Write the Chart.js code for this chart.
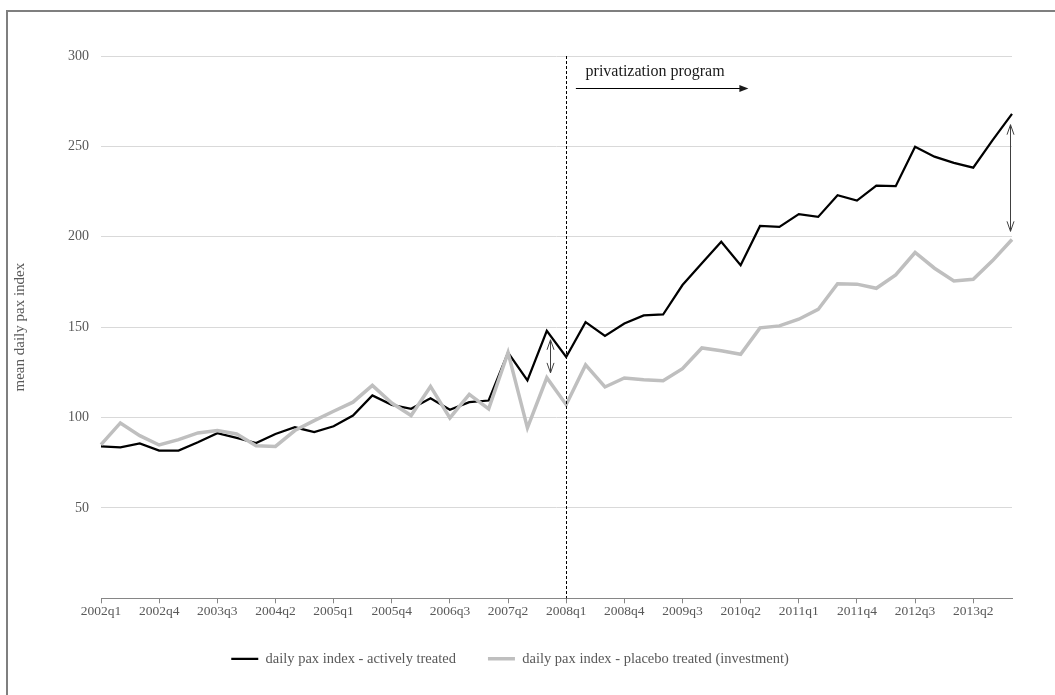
<!DOCTYPE html>
<html>
<head>
<meta charset="utf-8">
<script src="https://cdn.jsdelivr.net/npm/chart.js@4"></script>
<style>
  html, body { margin: 0; padding: 0; background: #fff; }
  #frame {
    position: absolute; left: 6px; top: 10px;
    width: 1047px; height: 683px;
    border-left: 2px solid #7f7f7f; border-top: 2px solid #7f7f7f;
  }
  #pax-chart { display: block; }
</style>
</head>
<body>
<div id="frame"><canvas id="pax-chart" width="1047" height="683"></canvas></div>
<script>
// quarters 2002q1 .. 2013q4
var quarters = [
  "2002q1","2002q2","2002q3","2002q4","2003q1","2003q2","2003q3","2003q4",
  "2004q1","2004q2","2004q3","2004q4","2005q1","2005q2","2005q3","2005q4",
  "2006q1","2006q2","2006q3","2006q4","2007q1","2007q2","2007q3","2007q4",
  "2008q1","2008q2","2008q3","2008q4","2009q1","2009q2","2009q3","2009q4",
  "2010q1","2010q2","2010q3","2010q4","2011q1","2011q2","2011q3","2011q4",
  "2012q1","2012q2","2012q3","2012q4","2013q1","2013q2","2013q3","2013q4"
];

var activelyTreated = [
  84, 83.5, 85.7, 81.7, 81.7, 86.3, 91.3, 88.7,
  85.9, 90.9, 94.6, 91.9, 95.2, 101.1, 112.2, 107,
  104.8, 110.7, 104.3, 108.5, 109.4, 135.9, 120.6, 148,
  133.5, 152.8, 145.2, 152, 156.5, 157, 173.3, 185.4,
  197.2, 184.3, 206, 205.5, 212.5, 211, 223, 220,
  228.3, 228, 249.8, 244.3, 240.9, 238.2, 253.5, 268
];

var placeboTreated = [
  85, 97, 90, 84.8, 87.8, 91.5, 92.8, 90.9,
  84.4, 84, 92.8, 98.3, 103.5, 108.5, 117.8, 108,
  101.1, 117.2, 99.8, 112.8, 104.8, 135.9, 94.3, 122,
  107.1, 129.1, 116.9, 121.9, 120.9, 120.4, 127, 138.5,
  136.9, 135, 149.6, 150.7, 154.4, 159.8, 174, 173.8,
  171.5, 178.9, 191.3, 182.6, 175.5, 176.5, 186.8, 198.5
];

var yTicks = [0, 50, 100, 150, 200, 250, 300];

// annotations (category index, value)
var policyQuarter = "2008q1";
var policyLabel = "privatization program";
var policyArrow = { from: 24.5, to: 33.4, value: 282.4, textAt: 25.0, textValue: 288.8 };
var gapArrows = [
  { at: 23.15, top: 143, bottom: 124.7 },
  { at: 46.9, top: 262, bottom: 203 }
];

var FONT = "'Liberation Serif', 'DejaVu Serif', serif";

(function () {
  "use strict";

  function openHead(ctx, x, y, dir) {
    // V shaped head, dir = -1 points up, +1 points down
    ctx.beginPath();
    ctx.moveTo(x - 3.5, y - dir * 10);
    ctx.lineTo(x, y);
    ctx.lineTo(x + 3.5, y - dir * 10);
    ctx.stroke();
  }

  var annotate = {
    id: "annotate",
    afterDatasetsDraw: function (chart) {
      var ctx = chart.ctx;
      var area = chart.chartArea;
      var x = chart.scales.x;
      var y = chart.scales.y;
      ctx.save();

      // dashed policy line
      var px = Math.round(x.getPixelForValue(quarters.indexOf(policyQuarter))) + 0.5;
      ctx.strokeStyle = "#000";
      ctx.lineWidth = 1;
      ctx.setLineDash([3, 2]);
      ctx.beginPath();
      ctx.moveTo(px, area.top);
      ctx.lineTo(px, area.bottom);
      ctx.stroke();
      ctx.setLineDash([]);

      // label + arrow
      ctx.fillStyle = "#1a1a1a";
      ctx.font = "16px " + FONT;
      ctx.textBaseline = "alphabetic";
      ctx.textAlign = "left";
      ctx.fillText(policyLabel, x.getPixelForValue(policyArrow.textAt), y.getPixelForValue(policyArrow.textValue));

      var ax0 = x.getPixelForValue(policyArrow.from);
      var ax1 = x.getPixelForValue(policyArrow.to);
      var ay = Math.round(y.getPixelForValue(policyArrow.value)) + 0.5;
      ctx.beginPath();
      ctx.moveTo(ax0, ay);
      ctx.lineTo(ax1 - 6, ay);
      ctx.stroke();
      ctx.beginPath();
      ctx.moveTo(ax1, ay);
      ctx.lineTo(ax1 - 9, ay - 3.5);
      ctx.lineTo(ax1 - 9, ay + 3.5);
      ctx.closePath();
      ctx.fill();

      // gap markers
      ctx.strokeStyle = "#404040";
      gapArrows.forEach(function (g) {
        var gx = Math.round(x.getPixelForValue(g.at)) + 0.5;
        var gt = y.getPixelForValue(g.top);
        var gb = y.getPixelForValue(g.bottom);
        ctx.beginPath();
        ctx.moveTo(gx, gt);
        ctx.lineTo(gx, gb);
        ctx.stroke();
        openHead(ctx, gx, gt, -1);
        openHead(ctx, gx, gb, 1);
      });

      ctx.restore();
    }
  };

  new Chart(document.getElementById("pax-chart"), {
    type: "line",
    data: {
      labels: quarters,
      datasets: [
        {
          label: "daily pax index - actively treated",
          data: activelyTreated,
          borderColor: "#000000",
          backgroundColor: "#000000",
          borderWidth: 2.25,
          pointRadius: 0,
          tension: 0,
          order: 1
        },
        {
          label: "daily pax index - placebo treated (investment)",
          data: placeboTreated,
          borderColor: "#bfbfbf",
          backgroundColor: "#bfbfbf",
          borderWidth: 3.5,
          pointRadius: 0,
          tension: 0,
          order: 0
        }
      ]
    },
    options: {
      animation: false,
      responsive: false,
      layout: { padding: { top: 44, right: 43, bottom: 19, left: 0 } },
      plugins: {
        legend: {
          position: "bottom",
          labels: {
            usePointStyle: true,
            pointStyle: "line",
            pointStyleWidth: 27,
            boxWidth: 27,
            padding: 32,
            color: "#595959",
            font: { family: FONT, size: 14.5 },
            sort: function (a, b) { return a.datasetIndex - b.datasetIndex; }
          }
        },
        tooltip: { enabled: false }
      },
      scales: {
        x: {
          offset: false,
          border: { display: true, color: "#868686", width: 1 },
          grid: {
            display: true,
            drawOnChartArea: false,
            drawTicks: true,
            tickLength: 5,
            color: function (c) { return c.index % 3 === 0 ? "#868686" : "rgba(0,0,0,0)"; }
          },
          ticks: {
            autoSkip: false,
            maxRotation: 0,
            padding: 0,
            color: "#595959",
            font: { family: FONT, size: 13.5 },
            callback: function (val, idx) {
              return idx % 3 === 0 ? this.getLabelForValue(val) : "";
            }
          }
        },
        y: {
          min: yTicks[0],
          max: yTicks[yTicks.length - 1],
          afterFit: function (s) { s.width = 93; },
          afterBuildTicks: function (s) {
            s.ticks = yTicks.map(function (v) { return { value: v }; });
          },
          border: { display: false },
          grid: {
            drawTicks: false,
            color: function (c) { return c.tick && c.tick.value === 0 ? "rgba(0,0,0,0)" : "#d9d9d9"; }
          },
          ticks: {
            padding: 12,
            color: "#595959",
            font: { family: FONT, size: 14 },
            callback: function (v) { return v === 0 ? "" : v; }
          },
          title: {
            display: true,
            text: "mean daily pax index",
            color: "#595959",
            font: { family: FONT, size: 15 },
            padding: { top: 3, bottom: 0 }
          }
        }
      }
    },
    plugins: [annotate]
  });
})();
</script>
</body>
</html>
